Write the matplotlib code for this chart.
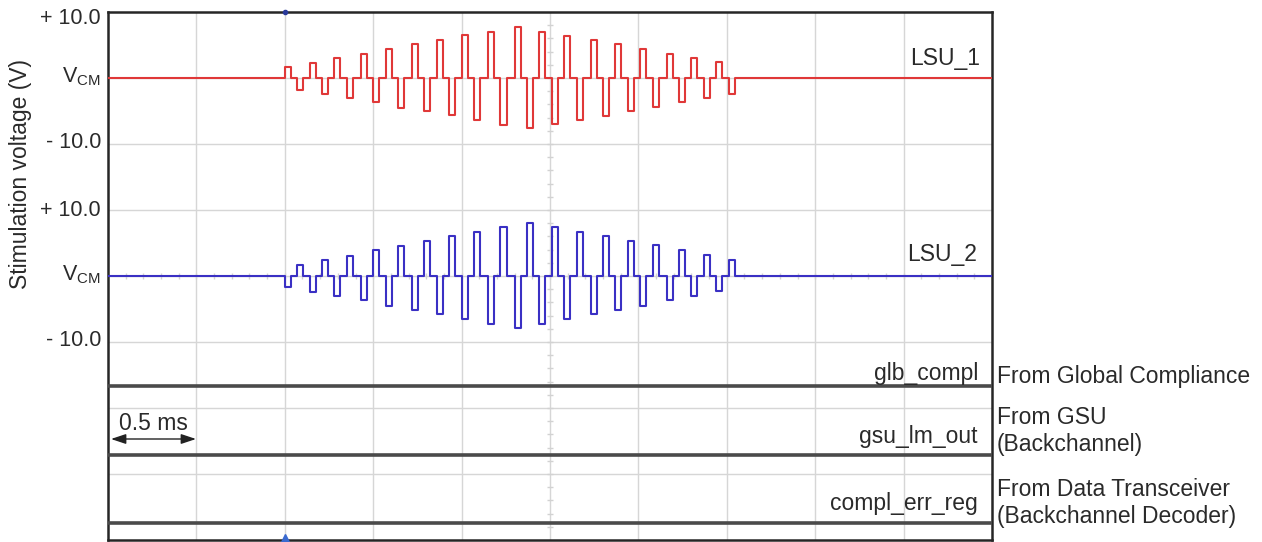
import matplotlib
matplotlib.use('Agg')
import matplotlib.pyplot as plt
import numpy as np

plt.rcParams['font.family'] = ['Liberation Sans', 'DejaVu Sans']
plt.rcParams['mathtext.fontset'] = 'custom'
plt.rcParams['mathtext.rm'] = 'Liberation Sans'

# ---------------- data ----------------
# time axis: 0 .. 5 ms, 0.5 ms / division
cycle_start_ms = [1.00, 1.14, 1.28, 1.43, 1.57, 1.72, 1.86, 2.00, 2.15,
                  2.30, 2.44, 2.58, 2.73, 2.87, 3.01, 3.16, 3.30, 3.44]
pulse_width_ms = 0.034
half_period_ms = 0.070

# LSU_1: positive pulse first, then negative pulse (volts around VCM)
lsu1_first_v = [1.6, 2.2, 3.0, 3.7, 4.4, 5.1, 5.7, 6.5, 6.9,
                7.7, 6.9, 6.4, 5.7, 5.1, 4.4, 3.7, 3.0, 2.4]
lsu1_second_v = [1.8, 2.4, 3.1, 3.7, 4.5, 5.0, 5.6, 6.3, 7.1,
                 7.6, 6.9, 6.3, 5.7, 5.0, 4.4, 3.7, 3.1, 2.4]
# LSU_2: negative pulse first, then positive pulse
lsu2_first_v = [1.7, 2.4, 3.1, 3.7, 4.5, 5.1, 5.8, 6.5, 7.3,
                7.9, 7.3, 6.5, 5.8, 5.1, 4.5, 3.7, 3.1, 2.3]
lsu2_second_v = [1.6, 2.4, 3.1, 3.9, 4.6, 5.3, 6.1, 6.7, 7.4,
                 8.1, 7.5, 6.7, 6.1, 5.3, 4.7, 4.0, 3.2, 2.5]

digital_names = ['glb_compl', 'gsu_lm_out', 'compl_err_reg']
digital_levels = [0, 0, 0]
digital_sources = ['From Global Compliance',
                   'From GSU\n(Backchannel)',
                   'From Data Transceiver\n(Backchannel Decoder)']
ytick_text = ['+ 10.0', r'$\mathrm{V}_{\mathrm{CM}}$', '- 10.0']
t_end_ms = 5.0

# ---------------- layout ----------------
W, H = 1262, 542
fig = plt.figure(figsize=(W / 100, H / 100), dpi=100)
L, R, T, B = 108, 992, 12, 540
ax = fig.add_axes([L / W, 1 - B / H, (R - L) / W, (B - T) / H])
ax.set_xlim(0, t_end_ms)
ax.set_ylim(0, 8)
px_per_ms = (R - L) / t_end_ms
px_per_div = (B - T) / 8.0

def px(xp, yp):
    return (xp - L) / px_per_ms, (B - yp) / px_per_div

# grid
ax.set_xticks(np.arange(0.5, t_end_ms, 0.5))
ax.set_yticks(np.arange(1, 8, 1))
ax.tick_params(length=0, labelbottom=False, labelleft=False)
ax.grid(True, color='#d6d6d6', lw=1.0)
ax.set_axisbelow(True)
for s in ax.spines.values():
    s.set_linewidth(1.8)
    s.set_color('#262626')

# centre-axis minor ticks (oscilloscope style)
cx = t_end_ms / 2
ax.plot([cx] * 39, np.arange(0.2, 8, 0.2), ls='none', marker='_',
        ms=4, color='#d2d2d2', mew=1, zorder=1)
ax.plot(np.arange(0.1, t_end_ms, 0.1), [4] * 49, ls='none', marker='|',
        ms=4, color='#d2d2d2', mew=1, zorder=1)

def burst(first, second, sign):
    t, v = [0.0], [0.0]
    for ts, a1, a2 in zip(cycle_start_ms, first, second):
        for st, amp in ((ts, sign * a1), (ts + half_period_ms, -sign * a2)):
            t += [st, st, st + pulse_width_ms, st + pulse_width_ms]
            v += [0.0, amp, amp, 0.0]
    t.append(t_end_ms)
    v.append(0.0)
    return np.array(t), np.array(v)

volts_per_div = 10.0
t1, v1 = burst(lsu1_first_v, lsu1_second_v, +1)
t2, v2 = burst(lsu2_first_v, lsu2_second_v, -1)
ax.plot(t1, 7 + v1 / volts_per_div, color='#e03838', lw=1.5, zorder=3)
ax.plot(t2, 4 + v2 / volts_per_div, color='#3a30c4', lw=1.5, zorder=3)

# digital lanes
lane_base = [(B - 386) / px_per_div, (B - 455) / px_per_div, (B - 523) / px_per_div]
for base, lvl in zip(lane_base, digital_levels):
    ax.plot([0, t_end_ms], [base + lvl, base + lvl], color='#4a4a4a',
            lw=2.6, zorder=3, solid_capstyle='butt')

fs_lab = 16.5
tc = '#2a2a2a'
# trace labels
ax.text(*px(980, 58), 'LSU_1', ha='right', va='center', fontsize=fs_lab, color=tc)
ax.text(*px(977, 254), 'LSU_2', ha='right', va='center', fontsize=fs_lab, color=tc)
for name, yb in zip(digital_names, [380, 443, 510]):
    ax.text(*px(978, yb), name, ha='right', va='baseline', fontsize=fs_lab, color=tc)

# sources on right
src_baselines = [[383], [424, 451], [496, 523]]
for src, ybs in zip(digital_sources, src_baselines):
    for line, yb in zip(src.split('\n'), ybs):
        ax.text(*px(997, yb), line, ha='left', va='baseline', fontsize=fs_lab,
                color=tc, clip_on=False)

# y tick labels
for ys in ([19, 77, 143], [211, 275, 341]):
    for lab, yp in zip(ytick_text, ys):
        ax.text(*px(101, yp), lab, ha='right', va='center', fontsize=15.5,
                color=tc, clip_on=False)

fig.text(21 / W, 1 - 174 / H, 'Stimulation voltage (V)', rotation=90,
         ha='center', va='center', fontsize=fs_lab, color=tc)

# 0.5 ms scale arrow
ax.annotate('', xy=px(196, 439), xytext=px(111, 439),
            arrowprops=dict(arrowstyle='<|-|>,head_length=0.9,head_width=0.3',
                            color='#222', lw=1.0, shrinkA=0, shrinkB=0))
ax.text(*px(153, 423), '0.5 ms', ha='center', va='center', fontsize=fs_lab, color=tc)

# trigger markers
ax.plot([cycle_start_ms[0]], [8], marker='o', ms=3, color='#2a3a9a', clip_on=False, zorder=5)
ax.plot([cycle_start_ms[0]], [0.03], marker='^', ms=6, color='#3a6ad0', clip_on=False, zorder=5)

fig.savefig('out.png', dpi=100)
